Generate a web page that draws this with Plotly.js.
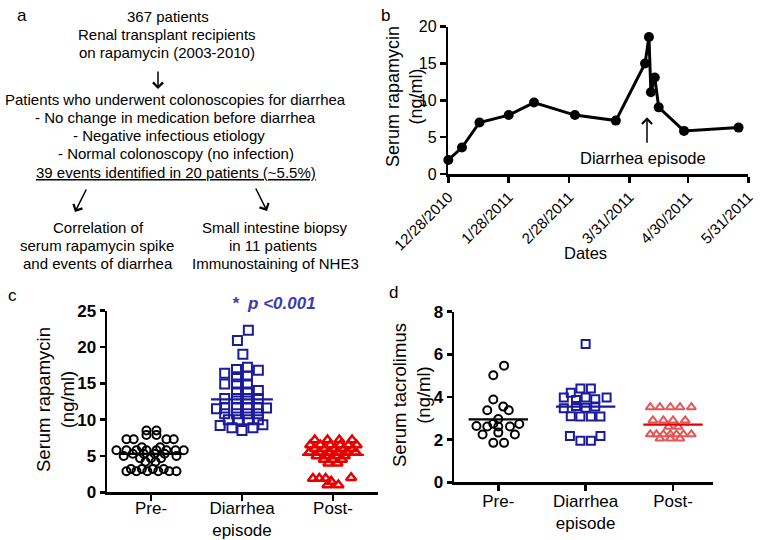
<!DOCTYPE html>
<html><head><meta charset="utf-8">
<script src="https://cdn.plot.ly/plotly-3.0.1.min.js"></script>
<style>html,body{margin:0;padding:0;background:#fff}#chart{width:764px;height:540px}</style>
</head><body><div id="chart"></div>
<script>
// ---------- DATA ----------
// Panel b: serum rapamycin time course
const sampleDates = ['2010-12-28','2011-01-04','2011-01-13','2011-01-28','2011-02-10','2011-03-03','2011-03-24',
  '2011-04-08','2011-04-10','2011-04-11','2011-04-13','2011-04-15','2011-04-28','2011-05-26'];
const serumRapaB = [1.9, 3.6, 7.0, 8.0, 9.7, 8.0, 7.25, 15.0, 18.6, 11.1, 13.1, 9.05, 5.85, 6.3];
const dateTickVals = ['2010-12-28','2011-01-28','2011-02-28','2011-03-31','2011-04-30','2011-05-31'];
const dateTickText = ['12/28/2010','1/28/2011','2/28/2011','3/31/2011','4/30/2011','5/31/2011'];
const episodeDate = '2011-04-09';

// Groups (panels c, d)
const groupLabels = ['Pre-', 'Diarrhea<br>episode', 'Post-'];

// Panel c: serum rapamycin (ng/ml) per group, with horizontal spread of each point (category units)
const preRapa = [8.5,8.5,7.9,7.9,7.3,7.3,7.3,7.3,6.2,6.2,5.8,5.8,5.8,5.8,5.8,5.8,5.8,5.8,5.3,5.3,5.3,5.3,5.0,5.0,4.7,4.7,4.7,4.2,4.2,3.2,3.2,3.2,3.2,2.9,2.9,2.9,2.9,2.9,2.9];
const preRapaSpread = [-0.05,0.06,-0.05,0.06,-0.27,-0.19,0.17,0.25,-0.10,0.10,-0.38,-0.27,-0.16,-0.05,0.06,0.17,0.27,0.36,-0.20,-0.08,0.04,0.15,-0.30,0.28,-0.12,0.0,0.11,-0.06,0.05,-0.22,-0.10,0.02,0.14,-0.27,-0.16,-0.04,0.08,0.20,0.28];
const diaRapa = [22.3,20.9,19.0,16.4,16.9,17.2,16.8,14.9,15.9,16.0,14.9,14.9,13.8,13.8,14.0,12.9,12.9,12.9,12.9,11.5,11.6,11.6,11.6,11.6,11.6,10.8,10.8,10.8,10.8,10.0,10.0,10.0,10.0,9.2,8.9,8.5,8.9,9.3];
const diaRapaSpread = [0.07,-0.05,0.01,-0.19,-0.06,0.06,0.18,-0.19,-0.06,0.06,-0.06,0.06,-0.06,0.06,0.18,-0.19,-0.06,0.06,0.18,-0.28,-0.19,-0.06,0.06,0.18,0.27,-0.19,-0.06,0.06,0.18,-0.15,-0.04,0.07,0.18,-0.24,-0.11,0.0,0.12,0.23];
const postRapa = [7.2,7.2,7.2,7.2,6.5,6.5,6.5,6.5,6.5,6.5,6.0,6.0,6.0,6.0,6.0,5.5,5.5,5.5,5.5,5.5,5.5,5.0,5.0,5.0,5.0,4.5,4.5,4.5,4.0,4.0,1.9,1.9,1.9,2.0,1.5,1.0,1.0];
const postRapaSpread = [-0.20,-0.06,0.07,0.21,-0.25,-0.14,-0.03,0.08,0.17,0.26,-0.20,-0.09,0.02,0.12,0.22,-0.26,-0.15,-0.05,0.05,0.15,0.25,-0.18,-0.08,0.03,0.13,-0.10,0.0,0.10,-0.05,0.05,-0.22,-0.15,-0.08,0.20,-0.02,-0.06,0.06];
const meanRapa = [5.3, 12.8, 5.15];

// Panel d: serum tacrolimus (ng/ml)
const preTacro = [5.47,5.02,3.88,3.38,3.55,3.38,2.97,2.64,2.62,2.75,2.62,2.62,2.73,2.24,2.33,2.24,1.85,1.85];
const preTacroSpread = [0.066,-0.057,-0.057,-0.126,0.057,0.12,0.0,-0.25,-0.126,-0.057,0.0,0.134,0.24,-0.18,0.0,0.19,-0.057,0.066];
const diaTacro = [6.48,4.2,4.4,4.4,3.98,3.86,3.98,3.9,3.98,3.47,3.58,3.5,3.55,3.1,3.08,3.08,3.08,2.17,1.95,1.95,2.17];
const diaTacroSpread = [0.0,-0.17,-0.06,0.06,-0.25,-0.11,0.0,0.11,0.24,-0.25,-0.11,0.0,0.11,-0.17,-0.06,0.06,0.17,-0.18,-0.06,0.06,0.17];
const postTacro = [3.52,3.52,3.52,3.52,3.52,2.9,2.9,2.9,2.9,2.6,2.6,2.25,2.25,2.25,2.25,2.25,2.25,2.25,2.05,2.05,2.05];
const postTacroSpread = [-0.26,-0.15,-0.03,0.08,0.21,-0.23,-0.11,0.0,0.14,-0.05,0.06,-0.26,-0.19,-0.11,-0.03,0.04,0.12,0.21,-0.15,-0.03,0.08];
const meanTacro = [2.95, 3.55, 2.7];

// ---------- LAYOUT HELPERS ----------
const W = 764, H = 540;
const PX = x => x / W, PY = y => 1 - y / H;
const FONT = 'Liberation Sans, Arial, sans-serif';
const BLACK = '#000000', BLUE = '#1b1b9c', RED = '#e60000', RED2 = '#e65555';
const HALF = 0.34;

function groupX(idx, spread) { return spread.map(s => idx + s); }
function pts(idx, vals, spread, sym, color, size, lw, xa, ya) {
  return { type: 'scatter', mode: 'markers', x: groupX(idx, spread), y: vals, xaxis: xa, yaxis: ya,
    cliponaxis: false, hoverinfo: 'y',
    marker: { symbol: sym, size: size, color: color, line: { color: color, width: lw } } };
}
function meanLine(idx, m, color, xa, ya) {
  return { type: 'scatter', mode: 'lines', x: [idx - HALF, idx + HALF], y: [m, m], xaxis: xa, yaxis: ya,
    line: { color: color, width: 2.2 }, hoverinfo: 'skip' };
}

const traces = [
  { type: 'scatter', mode: 'lines+markers', x: sampleDates, y: serumRapaB, xaxis: 'x', yaxis: 'y', cliponaxis: false,
    line: { color: BLACK, width: 3 }, marker: { color: BLACK, size: 10 } },
  pts(0, preRapa, preRapaSpread, 'circle-open', BLACK, 8, 2, 'x2', 'y2'),
  pts(1, diaRapa, diaRapaSpread, 'square-open', BLUE, 9, 2, 'x2', 'y2'),
  pts(2, postRapa, postRapaSpread, 'triangle-up-open', RED, 9, 2.5, 'x2', 'y2'),
  meanLine(0, meanRapa[0], BLACK, 'x2', 'y2'),
  meanLine(1, meanRapa[1], BLUE, 'x2', 'y2'),
  meanLine(2, meanRapa[2], RED, 'x2', 'y2'),
  pts(0, preTacro, preTacroSpread, 'circle-open', BLACK, 8, 2, 'x3', 'y3'),
  pts(1, diaTacro, diaTacroSpread, 'square-open', BLUE, 8, 2, 'x3', 'y3'),
  pts(2, postTacro, postTacroSpread, 'triangle-up-open', RED2, 8, 2, 'x3', 'y3'),
  meanLine(0, meanTacro[0], BLACK, 'x3', 'y3'),
  meanLine(1, meanTacro[1], BLUE, 'x3', 'y3'),
  meanLine(2, meanTacro[2], RED, 'x3', 'y3')
];

const axisBase = { showline: true, linecolor: BLACK, linewidth: 2.5, ticks: 'outside', ticklen: 6, tickwidth: 2.5,
  tickcolor: BLACK, showgrid: false, zeroline: false, fixedrange: true };

function ann(text, x, y, size, extra) {
  return Object.assign({ text: text, x: PX(x), y: PY(y), xref: 'paper', yref: 'paper', showarrow: false,
    xanchor: 'center', yanchor: 'middle', font: { family: FONT, size: size, color: BLACK } }, extra || {});
}
function arrow(hx, hy, tx, ty, extra) {
  return Object.assign({ text: '', x: PX(hx), y: PY(hy), xref: 'paper', yref: 'paper', showarrow: true,
    ax: tx - hx, ay: ty - hy, arrowhead: 4, arrowsize: 1.3, arrowwidth: 1.5, arrowcolor: BLACK,
    standoff: 0, startstandoff: 0 }, extra || {});
}

const annotations = [
  // panel letters
  ann('a', 22, 15, 17), ann('b', 385, 15, 17), ann('c', 12, 295, 17), ann('d', 394, 292, 17),
  // panel a flow chart
  ann('367 patients', 168, 16, 15),
  ann('Renal transplant recipients', 167, 34, 15),
  ann('on rapamycin (2003-2010)', 167, 52, 15),
  arrow(158, 89, 158, 70),
  ann('Patients who underwent colonoscopies for diarrhea', 175, 100, 15),
  ann('- No change in medication before diarrhea', 175, 117, 15),
  ann('- Negative infectious etiology', 169, 135, 15),
  ann('- Normal colonoscopy (no infection)', 176, 153, 15),
  ann('39 events identified in 20 patients (~5.5%)', 176, 172, 15,
      { font: { family: FONT, size: 15, color: BLACK, lineposition: 'under' } }),
  arrow(75, 212, 87, 188),
  arrow(267, 211, 255, 187),
  ann('Correlation of', 98, 227, 15),
  ann('serum rapamycin spike', 97, 245, 15),
  ann('and events of diarrhea', 98, 263, 15),
  ann('Small intestine biopsy', 275, 227, 15),
  ann('in 11 patients', 273, 245, 15),
  ann('Immunostaining of NHE3', 275, 263, 15),
  // panel b
  ann('Serum rapamycin<br>(ng/ml)', 404, 96, 18, { textangle: -90 }),
  ann('Dates', 585, 253, 16.5),
  ann('Diarrhea episode', 643, 158, 16.5),
  { text: '', x: episodeDate, y: 7.7, xref: 'x', yref: 'y', showarrow: true, ax: 0, ay: 27,
    arrowhead: 4, arrowsize: 1.3, arrowwidth: 1.5, arrowcolor: BLACK, standoff: 0, startstandoff: 0 },
  // panel c
  ann('Serum rapamycin<br>(ng/ml)', 55, 400, 18.5, { textangle: -90 }),
  ann('<b><i>*  p &lt;0.001</i></b>', 230, 303, 17,
      { xanchor: 'left', font: { family: FONT, size: 17, color: '#3a3ab4' } }),
  // panel d
  ann('Serum tacrolimus<br>(ng/ml)', 411, 395, 18.5, { textangle: -90 })
];

const layout = {
  width: W, height: H, margin: { l: 0, r: 0, t: 0, b: 0 },
  paper_bgcolor: '#ffffff', plot_bgcolor: '#ffffff', showlegend: false,
  font: { family: FONT, color: BLACK },
  xaxis: Object.assign({}, axisBase, { type: 'date', domain: [PX(448.3), PX(748.3)], anchor: 'y',
    range: ['2010-12-28', '2011-05-31'], tickvals: dateTickVals, ticktext: dateTickText, tickangle: -45,
    tickfont: { family: FONT, size: 15, color: BLACK } }),
  yaxis: Object.assign({}, axisBase, { domain: [PY(174), PY(26.7)], anchor: 'x', range: [0, 20],
    tickvals: [0, 5, 10, 15, 20], tickfont: { family: FONT, size: 16, color: BLACK } }),
  xaxis2: Object.assign({}, axisBase, { domain: [PX(107), PX(378)], anchor: 'y2', range: [-0.4835, 2.495],
    tickvals: [0, 1, 2], ticktext: groupLabels, ticklabelstandoff: -7,
    tickfont: { family: FONT, size: 17, color: BLACK } }),
  yaxis2: Object.assign({}, axisBase, { domain: [PY(492.3), PY(310.7)], anchor: 'x2', range: [0, 25],
    tickvals: [0, 5, 10, 15, 20, 25], ticklen: 5,
    tickfont: { family: FONT, size: 17, color: BLACK, weight: 'bold' } }),
  xaxis3: Object.assign({}, axisBase, { domain: [PX(454), PX(713)], anchor: 'y3', range: [-0.507, 2.458],
    tickvals: [0, 1, 2], ticktext: groupLabels, ticklabelstandoff: -4,
    tickfont: { family: FONT, size: 17, color: BLACK } }),
  yaxis3: Object.assign({}, axisBase, { domain: [PY(482.3), PY(311.7)], anchor: 'x3', range: [0, 8],
    tickvals: [0, 2, 4, 6, 8], ticklen: 5,
    tickfont: { family: FONT, size: 17, color: BLACK, weight: 'bold' } }),
  annotations: annotations
};

Plotly.newPlot('chart', traces, layout, { displayModeBar: false, staticPlot: true });
</script>
</body></html>
